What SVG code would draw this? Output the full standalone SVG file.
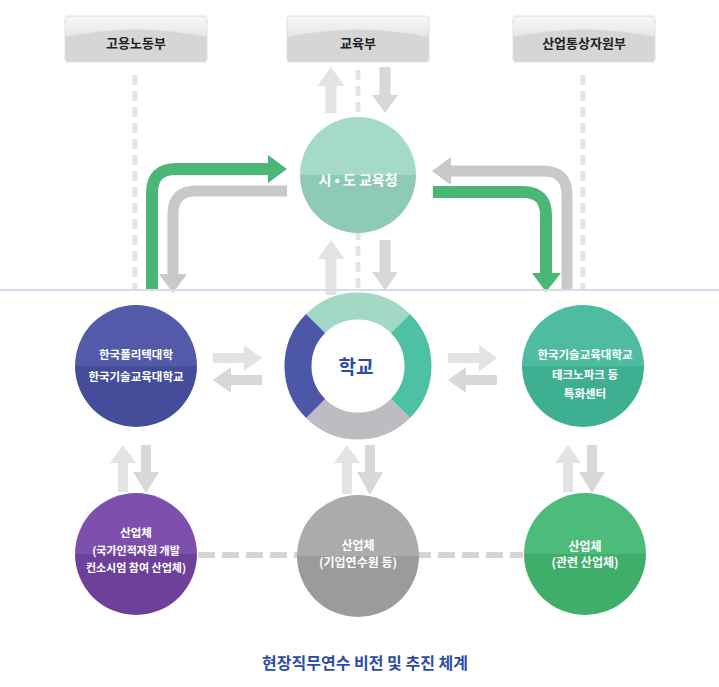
<svg xmlns="http://www.w3.org/2000/svg" width="719" height="687" viewBox="0 0 719 687">
<style>
.bx{fill:#d6d6d6;stroke:#e2e2e2;stroke-width:1}
.bxh{fill:url(#hl)}
.bt{font-family:"Noto Sans CJK KR","Noto Sans",sans-serif;font-weight:bold;font-size:13px;fill:#222;text-anchor:middle}
.ct{font-family:"Noto Sans CJK KR","Noto Sans",sans-serif;font-weight:bold;font-size:11.5px;fill:#fff;text-anchor:middle}
.dash{stroke:#e4e4e4;stroke-width:5;stroke-dasharray:10 6;fill:none}
.ga{fill:#d8d8d8}
.gl{fill:#e3e3e3}
.grn{stroke:#4bb776;stroke-width:12;fill:none}
.gry{stroke:#c9c9c9;stroke-width:11;fill:none}
</style>
<defs>
<linearGradient id="hl" x1="0" y1="0" x2="0" y2="1"><stop offset="0" stop-color="#f7f7f7"/><stop offset="1" stop-color="#e6e6e6"/></linearGradient>
<linearGradient id="cTop" x1="0" y1="0" x2="0" y2="1"><stop offset="0.5" stop-color="#a5dac9"/><stop offset="0.5" stop-color="#8fc9b7"/></linearGradient>
<linearGradient id="cBlue" x1="0" y1="0" x2="0" y2="1"><stop offset="0.5" stop-color="#525aa9"/><stop offset="0.5" stop-color="#454c9a"/></linearGradient>
<linearGradient id="cTeal" x1="0" y1="0" x2="0" y2="1"><stop offset="0.5" stop-color="#4dbca0"/><stop offset="0.5" stop-color="#3faf92"/></linearGradient>
<linearGradient id="cPur" x1="0" y1="0" x2="0" y2="1"><stop offset="0.5" stop-color="#7e50ad"/><stop offset="0.5" stop-color="#6d409c"/></linearGradient>
<linearGradient id="cGray" x1="0" y1="0" x2="0" y2="1"><stop offset="0.5" stop-color="#ababab"/><stop offset="0.5" stop-color="#9b9b9b"/></linearGradient>
<linearGradient id="cGrn" x1="0" y1="0" x2="0" y2="1"><stop offset="0.5" stop-color="#4dbb79"/><stop offset="0.5" stop-color="#40ae6b"/></linearGradient>
</defs>
<rect width="719" height="687" fill="#fff"/>

<g id="connectors">
<line class="dash" x1="135" y1="75" x2="135" y2="290"/>
<line class="dash" x1="583" y1="75" x2="583" y2="290"/>
<line class="dash" x1="358" y1="70" x2="358" y2="292"/>
<line x1="198" y1="555" x2="523" y2="555" stroke="#d5d5d5" stroke-width="6" stroke-dasharray="17 7"/>
<polygon class="gl" points="331,67 344.5,86 336.5,86 336.5,113 325.5,113 325.5,86 317.5,86"/>
<polygon class="ga" points="385,113 398,95 390.5,95 390.5,67 379.5,67 379.5,95 372,95"/>
<polygon class="gl" points="331,240 344.5,259 336.5,259 336.5,295 325.5,295 325.5,259 317.5,259"/>
<polygon class="ga" points="385,290 398,272 390.5,272 390.5,240 379.5,240 379.5,272 372,272"/>
<polygon class="gl" points="123,445 136,463 128,463 128,492 118,492 118,463 110,463"/>
<polygon class="ga" points="146,493 159,472 151,472 151,445 141,445 141,472 133,472"/>
<polygon class="gl" points="347,445 360,463 352,463 352,494 342,494 342,463 334,463"/>
<polygon class="ga" points="370,495 383,472 375,472 375,445 365,445 365,472 357,472"/>
<polygon class="gl" points="568,445 581,463 573,463 573,492 563,492 563,463 555,463"/>
<polygon class="ga" points="592,493 605,472 597,472 597,445 587,445 587,472 579,472"/>
<polygon class="gl" points="262,358 244,345 244,353 213,353 213,363 244,363 244,371"/>
<polygon class="ga" points="213,380 231,367 231,375 262,375 262,385 231,385 231,393"/>
<polygon class="gl" points="497,358 479,345 479,353 448,353 448,363 479,363 479,371"/>
<polygon class="ga" points="448,380 466,367 466,375 497,375 497,385 466,385 466,393"/>
<path class="gry" d="M287,191 H196 Q173,191 173,214 V275"/>
<polygon fill="#c9c9c9" points="159,274 187,274 173,293"/>
<path class="grn" d="M152,290 V193 Q152,169 176,169 H270"/>
<polygon fill="#4bb776" points="268,155 268,183 287,169"/>
<path class="gry" d="M567,290 V195 Q567,171 543,171 H450"/>
<polygon fill="#c9c9c9" points="451,157 451,185 432,171"/>
<path class="grn" d="M433,192 H523 Q546,192 546,215 V275"/>
<polygon fill="#4bb776" points="532,273 561,273 546,292"/>
<line x1="0" y1="290" x2="719" y2="290" stroke="#d3ddec" stroke-width="2"/>
</g>

<g id="moel">
<rect class="bx" x="65" y="16" width="142" height="46" rx="3"/>
<path class="bxh" d="M65.5,19 Q65.5,16.5 68,16.5 H204 Q206.5,16.5 206.5,19 V37 Q136,22 65.5,37 Z"/>
<text class="bt" x="136" y="48">고용노동부</text>
</g>
<g id="moe">
<rect class="bx" x="287" y="16" width="142" height="46" rx="3"/>
<path class="bxh" d="M287.5,19 Q287.5,16.5 290,16.5 H426 Q428.5,16.5 428.5,19 V37 Q358,22 287.5,37 Z"/>
<text class="bt" x="358" y="48">교육부</text>
</g>
<g id="motie">
<rect class="bx" x="513" y="16" width="142" height="46" rx="3"/>
<path class="bxh" d="M513.5,19 Q513.5,16.5 516,16.5 H652 Q654.5,16.5 654.5,19 V37 Q584,22 513.5,37 Z"/>
<text class="bt" x="584" y="48">산업통상자원부</text>
</g>

<g id="edu-office">
<circle cx="358" cy="175" r="58" fill="url(#cTop)"/>
<text class="ct" x="358" y="185" style="font-size:14px">시 • 도 교육청</text>
</g>

<g id="school">
<circle cx="358" cy="366" r="47" fill="#fff"/>
<path d="M315.57,323.57 A60,60 0 0 1 400.43,323.57" stroke="#a3d8c7" stroke-width="27" fill="none"/>
<path d="M400.43,323.57 A60,60 0 0 1 400.43,408.43" stroke="#4ec0a3" stroke-width="27" fill="none"/>
<path d="M400.43,408.43 A60,60 0 0 1 315.57,408.43" stroke="#bcbdc1" stroke-width="27" fill="none"/>
<path d="M315.57,408.43 A60,60 0 0 1 315.57,323.57" stroke="#4c57a8" stroke-width="27" fill="none"/>
<text x="356" y="374" text-anchor="middle" style="font-family:'Noto Sans CJK KR',sans-serif;font-weight:bold;font-size:19px;fill:#2c4ba8">학교</text>
</g>

<g id="polytech">
<circle cx="136" cy="366" r="61" fill="url(#cBlue)"/>
<text class="ct" x="136" y="359">한국폴리텍대학</text>
<text class="ct" x="136" y="381">한국기술교육대학교</text>
</g>

<g id="koreatech">
<circle cx="583" cy="366" r="61" fill="url(#cTeal)"/>
<text class="ct" x="585" y="359">한국기술교육대학교</text>
<text class="ct" x="585" y="379">테크노파크 등</text>
<text class="ct" x="585" y="398">특화센터</text>
</g>

<g id="industry-left">
<circle cx="136" cy="554" r="61" fill="url(#cPur)"/>
<text class="ct" x="136" y="537">산업체</text>
<text class="ct" x="136" y="555" style="font-size:11px">(국가인적자원 개발</text>
<text class="ct" x="136" y="572" style="font-size:11px">컨소시엄 참여 산업체)</text>
</g>

<g id="industry-mid">
<circle cx="358" cy="556" r="61" fill="url(#cGray)"/>
<text class="ct" x="358" y="550" style="font-size:12px">산업체</text>
<text class="ct" x="358" y="567" style="font-size:12px">(기업연수원 등)</text>
</g>

<g id="industry-right">
<circle cx="585" cy="554" r="61" fill="url(#cGrn)"/>
<text class="ct" x="585" y="551" style="font-size:12px">산업체</text>
<text class="ct" x="585" y="567" style="font-size:12px">(관련 산업체)</text>
</g>

<text x="365" y="669" text-anchor="middle" style="font-family:'Noto Sans CJK KR',sans-serif;font-weight:bold;font-size:16px;fill:#2e4ca6">현장직무연수 비전 및 추진 체계</text>
</svg>
